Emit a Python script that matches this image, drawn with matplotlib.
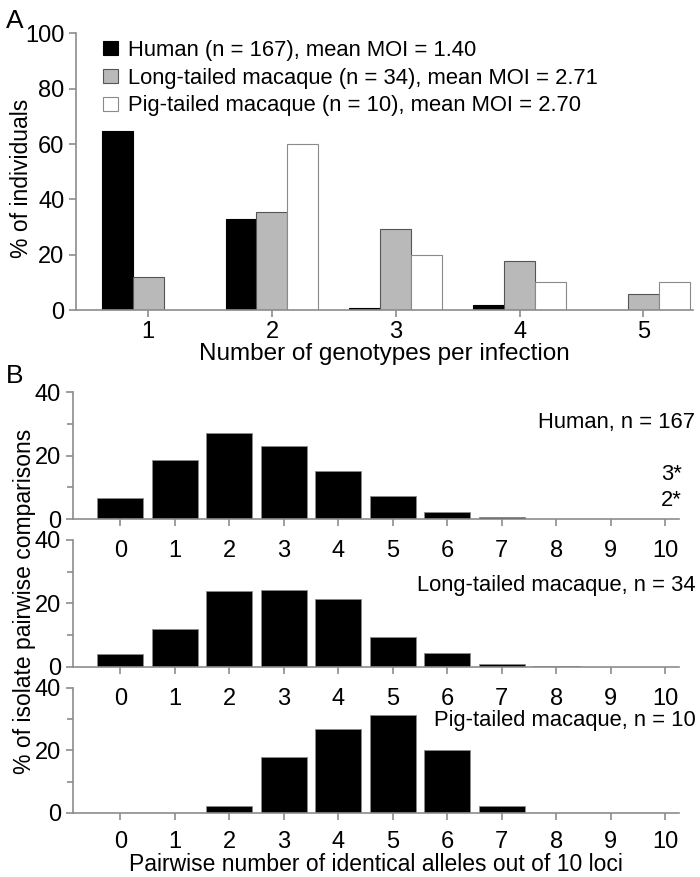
import matplotlib
matplotlib.use("Agg")
import matplotlib.pyplot as plt
import numpy as np

# ---- data ----
genotypes = [1, 2, 3, 4, 5]
human_moi = [64.7, 32.9, 0.6, 1.8, 0.0]
long_moi = [11.8, 35.3, 29.4, 17.6, 5.9]
pig_moi = [0.0, 60.0, 20.0, 10.0, 10.0]
legend_labels = ["Human (n = 167), mean MOI = 1.40",
                 "Long-tailed macaque (n = 34), mean MOI = 2.71",
                 "Pig-tailed macaque (n = 10), mean MOI = 2.70"]

alleles = list(range(11))
human_pw = [6.6, 18.6, 27.2, 23.0, 15.1, 7.3, 2.3, 0.7, 0.2, 0.1, 0.05]
long_pw = [4.1, 11.8, 24.0, 24.2, 21.3, 9.5, 4.4, 0.8, 0.2, 0.05, 0.05]
pig_pw = [0.0, 0.0, 2.3, 17.9, 26.8, 31.2, 20.1, 2.3, 0.0, 0.0, 0.0]
panel_titles = ["Human, n = 167", "Long-tailed macaque, n = 34", "Pig-tailed macaque, n = 10"]
human_notes = ["3*", "2*"]

plt.rcParams['font.family'] = ["Liberation Sans", "DejaVu Sans"]

GREY = "#8c8c8c"
fig = plt.figure(figsize=(7, 8.77), dpi=100)

def style(ax):
    ax.patch.set_visible(False)
    for s in ["top", "right"]:
        ax.spines[s].set_visible(False)
    for s in ["left", "bottom"]:
        ax.spines[s].set_color(GREY)
        ax.spines[s].set_linewidth(1.2)
    ax.tick_params(colors=GREY, labelcolor="black", width=1.2)

FS = 17      # tick labels
TS = 15.8    # legend / panel titles
XS = 17.5    # x label A
XSB = 16.5   # x label B
YS = 16.5    # y labels

# ---- Panel A ----
axA = fig.add_axes([0.109, 0.6465, 0.881, 0.3155])
style(axA)
x = np.array(genotypes)
w = 0.25
axA.bar(x - w, human_moi, w, color="black", edgecolor="black", linewidth=0.8, label=legend_labels[0])
axA.bar(x, long_moi, w, color="#b9b9b9", edgecolor="#555555", linewidth=0.8, label=legend_labels[1])
axA.bar(x + w, pig_moi, w, color="white", edgecolor="#8a8a8a", linewidth=0.8, label=legend_labels[2])
axA.set_xlim(0.42, 5.4)
axA.set_ylim(0, 100)
axA.set_yticks([0, 20, 40, 60, 80, 100])
axA.set_xticks(genotypes)
axA.tick_params(axis="both", labelsize=FS, length=5)
axA.tick_params(axis="x", pad=3)
axA.set_xlabel("Number of genotypes per infection", fontsize=XS, labelpad=0)
leg = axA.legend(loc="upper left", bbox_to_anchor=(0.025, 1.015), frameon=False, fontsize=TS,
                 handlelength=0.7, handleheight=0.6, handletextpad=0.45, labelspacing=0.3,
                 borderaxespad=0.1)
fig.text(0.031, 0.797, "% of individuals", rotation=90, fontsize=YS, ha="center", va="center")
fig.text(0.008, 0.99, "A", fontsize=19, va="top", ha="left")

# ---- Panel B ----
bottoms = [0.408, 0.2395, 0.073]
datas = [human_pw, long_pw, pig_pw]
title_y = [0.76, 0.64, 0.74]
pads = [10, 10, 8]
axes_b = []
for i, (b, d) in enumerate(zip(bottoms, datas)):
    ax = fig.add_axes([0.104, b, 0.866, 0.145 - (0.002 if i == 2 else 0)])
    style(ax)
    ax.bar(alleles, d, 0.85, color="black", edgecolor=GREY, linewidth=0.6)
    ax.set_xlim(-0.87, 10.25)
    ax.set_ylim(0, 40)
    ax.set_yticks([0, 20, 40])
    ax.set_yticks([10, 30], minor=True)
    ax.set_xticks(alleles)
    ax.tick_params(axis="both", labelsize=FS, length=5)
    ax.tick_params(axis="y", which="minor", length=4, colors=GREY, width=1.2)
    ax.tick_params(axis="x", pad=pads[i])
    ax.text(10.55, title_y[i] * 40, panel_titles[i], ha="right", va="center",
            fontsize=TS, clip_on=False)
    axes_b.append(ax)

axes_b[0].text(10.3, 13.9, human_notes[0], ha="right", va="center", fontsize=TS)
axes_b[0].text(10.3, 6.0, human_notes[1], ha="right", va="center", fontsize=TS)
axes_b[2].set_xlabel("Pairwise number of identical alleles out of 10 loci", fontsize=XSB, labelpad=0)
fig.text(0.035, 0.3147, "% of isolate pairwise comparisons", rotation=90, fontsize=YS,
         ha="center", va="center")
fig.text(0.008, 0.585, "B", fontsize=19, va="top", ha="left")

fig.savefig("out.png", dpi=100)
